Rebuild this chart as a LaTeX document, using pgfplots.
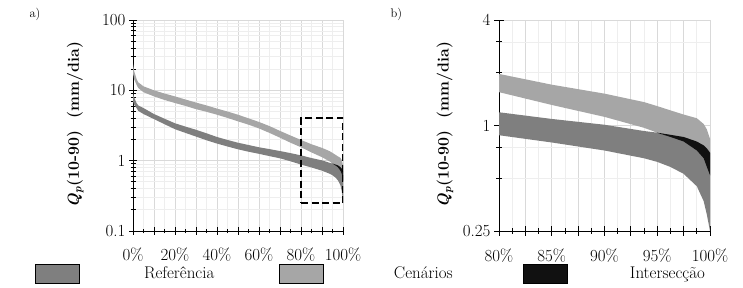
\documentclass[border=0pt]{standalone}
\usepackage{pgfplots}
\pgfplotsset{compat=1.18}
\usepackage{pgfplotstable}
\definecolor{refc}{HTML}{7F7F7F}
\definecolor{cenc}{HTML}{A6A6A6}
\definecolor{intc}{HTML}{111111}
\definecolor{gridmaj}{HTML}{D9D9D9}
\definecolor{gridmin}{HTML}{EEEEEE}

% Reference band polygon: upper edge forward, lower edge backward
\pgfplotstableread{
x y
0 9.2
0.5 8.0
1.7 6.6
2.5 6.1
5 5.6
10 4.6
15 3.95
20 3.4
25 3.05
30 2.75
35 2.45
40 2.17
45 1.97
50 1.8
55 1.67
60 1.55
65 1.46
70 1.37
75 1.28
80 1.19
85 1.09
90 1.01
93.75 0.93
95 0.91
96.25 0.885
97.5 0.86
98.75 0.81
99.4 0.77
99.7 0.74
100 0.70
100 0.25
99.7 0.31
99.4 0.37
98.75 0.45
97.5 0.53
96.25 0.58
95 0.62
93.75 0.65
90 0.72
85 0.80
80 0.88
75 0.98
70 1.08
65 1.16
60 1.25
55 1.34
50 1.45
45 1.59
40 1.75
35 1.95
30 2.2
25 2.48
20 2.8
15 3.3
10 3.9
5 4.6
2.5 5.1
1.7 5.6
0.5 6.3
0 7.0
}\refpoly

% Scenario band polygon
\pgfplotstableread{
x y
0 24
0.5 19
1.7 14.5
2.5 13
5 11.4
10 10
15 9.0
20 8.2
25 7.4
30 6.7
35 6.1
40 5.5
45 5.0
50 4.5
55 4.0
60 3.55
65 3.1
70 2.65
75 2.28
80 1.97
85 1.71
90 1.52
93.75 1.36
95 1.29
96.25 1.22
97.5 1.155
98.75 1.10
99.4 1.02
99.7 0.95
100 0.84
100 0.52
99.7 0.58
99.4 0.65
98.75 0.72
97.5 0.81
96.25 0.86
95 0.91
93.75 0.97
90 1.12
85 1.31
80 1.55
75 1.8
70 2.12
65 2.48
60 2.87
55 3.25
50 3.62
45 4.05
40 4.5
35 4.95
30 5.4
25 6.0
20 6.6
15 7.3
10 8.2
5 9.4
2.5 10.8
1.7 12.0
0.5 14.5
0 17.5
}\cenpoly

% Intersection polygon
\pgfplotstableread{
x y
94.9 0.912
96.25 0.885
97.5 0.86
98.75 0.81
99.4 0.77
99.7 0.74
100 0.70
100 0.52
99.7 0.58
99.4 0.65
98.75 0.72
97.5 0.81
96.25 0.86
}\intpoly

% Zoom window (dashed rectangle)
\pgfplotstableread{
x y
80 0.25
100 0.25
100 4
80 4
80 0.25
}\zoombox

\begin{document}
\begin{tikzpicture}
\path[use as bounding box] (0,0) rectangle (743bp,288bp);

\node[anchor=base west, font=\fontsize{12.5}{14}\selectfont] at (26bp,270bp) {a)};
\node[anchor=base west, font=\fontsize{12.5}{14}\selectfont] at (387bp,270bp) {b)};

\begin{axis}[
  scale only axis,
  at={(133bp,57bp)}, anchor=south west,
  width=210bp, height=211bp,
  ymode=log,
  axis x line*=bottom, axis y line*=left,
  axis line style={black, line width=0.8bp},
  tick style={black, line width=0.8bp},
  tick align=center,
  major tick length=8bp, minor tick length=5bp,
  tick label style={font=\fontsize{17}{20}\selectfont},
  xticklabel style={yshift=-9bp},
  xmajorgrids=true, xminorgrids=true, ymajorgrids=true, yminorgrids=true,
  major grid style={draw=gridmaj, line width=0.8bp},
  minor grid style={draw=gridmin, line width=0.7bp},
  xmin=0, xmax=100, ymin=0.1, ymax=100,
  xtick={0,10,...,100},
  xticklabels={0\%,,20\%,,40\%,,60\%,,80\%,,100\%},
  minor x tick num=1,
  ytick={0.1,1,10,100},
  yticklabels={0.1,1,10,100},
  minor ytick={0.2,0.3,0.4,0.5,0.6,0.7,0.8,0.9,2,3,4,5,6,7,8,9,20,30,40,50,60,70,80,90},
  ylabel={\textbf{\textit{Q}\textsubscript{\textit{p}}(10-90)\ \ (mm/dia)}},
  ylabel style={font=\fontsize{16}{18}\selectfont, anchor=center, at={(axis description cs:-0.275,0.505)}},
]
\addplot[draw=none, fill=refc] table {\refpoly};
\addplot[draw=none, fill=cenc] table {\cenpoly};
\addplot[draw=none, fill=intc] table {\intpoly};
\addplot[black, line width=1.8bp, dash pattern=on 7bp off 3.5bp] table {\zoombox};
\end{axis}

\begin{axis}[
  scale only axis,
  at={(499bp,57bp)}, anchor=south west,
  width=211bp, height=211bp,
  ymode=log,
  axis x line*=bottom, axis y line*=left,
  axis line style={black, line width=0.8bp},
  tick style={black, line width=0.8bp},
  tick align=center,
  major tick length=10bp, minor tick length=6bp,
  tick label style={font=\fontsize{17}{20}\selectfont},
  xticklabel style={yshift=-9bp},
  xmajorgrids=true, xminorgrids=true, ymajorgrids=true, yminorgrids=true,
  major grid style={draw=gridmaj, line width=0.8bp},
  minor grid style={draw=gridmin, line width=0.7bp},
  xmin=80, xmax=100, ymin=0.25, ymax=4,
  xtick={80,82.5,...,100},
  xticklabels={80\%,,85\%,,90\%,,95\%,,100\%},
  minor x tick num=1,
  ytick={0.25,1,4},
  yticklabels={0.25,1,4},
  minor ytick={0.5,0.75,2,3},
  ylabel={\textbf{\textit{Q}\textsubscript{\textit{p}}(10-90)\ \ (mm/dia)}},
  ylabel style={font=\fontsize{16}{18}\selectfont, anchor=center, at={(axis description cs:-0.256,0.505)}},
  legend columns=3,
  area legend,
  legend image post style={xscale=2.6, yscale=3.3, draw=none},
  legend style={at={(axis description cs:-2.215,-0.2014)}, anchor=west,
    draw=none, fill=none,
    font=\fontsize{17}{20}\selectfont,
    /tikz/every odd column/.append style={column sep=0bp},
    /tikz/every even column/.append style={column sep=0bp}},
]
\addplot[draw=none, fill=refc] table {\refpoly};
\addlegendentry{\makebox[195.5bp]{Referência}}
\addplot[draw=none, fill=cenc] table {\cenpoly};
\addlegendentry{\makebox[195.5bp]{Cenários}}
\addplot[draw=none, fill=intc] table {\intpoly};
\addlegendentry{\makebox[195.5bp]{Intersecção}}
\end{axis}
\end{tikzpicture}
\end{document}
